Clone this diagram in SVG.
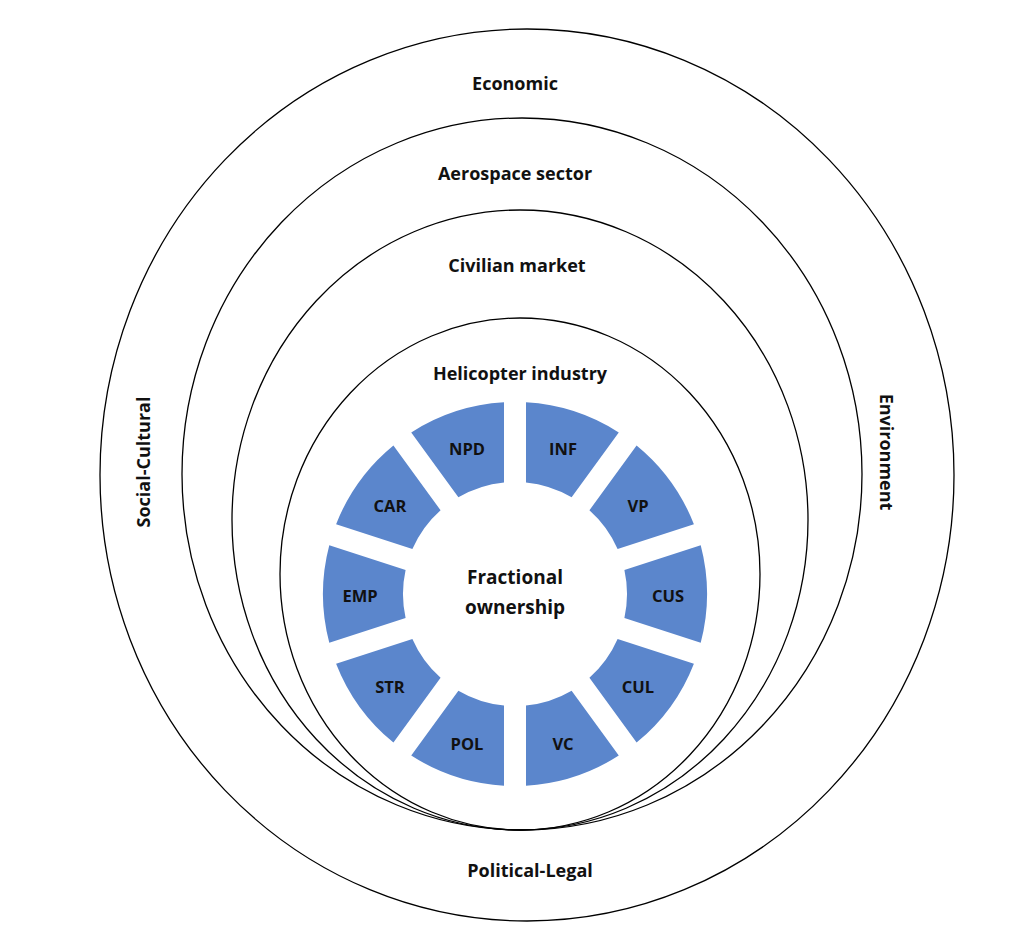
<svg xmlns="http://www.w3.org/2000/svg" xmlns:xlink="http://www.w3.org/1999/xlink" width="1032" height="942" viewBox="0 0 1032 942">
<style>
.ring{fill:none;stroke:#000;stroke-width:1.3}
.lbl{font-family:"Open Sans","Liberation Sans",sans-serif;font-weight:bold;font-size:18px;fill:#111;text-anchor:middle}
.seg{fill:#5B86CC}
.sl{font-family:"Open Sans","Liberation Sans",sans-serif;font-weight:bold;font-size:16.5px;fill:#111;text-anchor:middle;dominant-baseline:central}
</style>
<defs>
<path id="s" class="seg" d="M109.41,-23.98 L185.71,-48.77 A192 192 0 0 1 185.71,48.77 L109.41,23.98 A112 112 0 0 0 109.41,-23.98Z"/>
</defs>
<rect width="1032" height="942" fill="#fff"/>
<g id="economic"><ellipse class="ring" cx="527" cy="475" rx="427" ry="446"/><text class="lbl" x="515" y="90">Economic</text></g>
<g id="aerospace"><ellipse class="ring" cx="522" cy="474" rx="340" ry="356"/><text class="lbl" x="515" y="180">Aerospace sector</text></g>
<g id="civilian"><ellipse class="ring" cx="520" cy="520" rx="288" ry="310"/><text class="lbl" x="517" y="272">Civilian market</text></g>
<g id="helicopter"><ellipse class="ring" cx="520" cy="574" rx="240" ry="256"/><text class="lbl" x="520" y="380">Helicopter industry</text></g>
<g id="side-labels">
<text class="lbl" transform="translate(150,462) rotate(-90)">Social-Cultural</text>
<text class="lbl" transform="translate(880,452) rotate(90)">Environment</text>
<text class="lbl" x="530" y="877">Political-Legal</text>
</g>
<g id="segments" transform="translate(515,594)">
<use xlink:href="#s" transform="rotate(0)"/>
<use xlink:href="#s" transform="rotate(36)"/>
<use xlink:href="#s" transform="rotate(72)"/>
<use xlink:href="#s" transform="rotate(108)"/>
<use xlink:href="#s" transform="rotate(144)"/>
<use xlink:href="#s" transform="rotate(180)"/>
<use xlink:href="#s" transform="rotate(216)"/>
<use xlink:href="#s" transform="rotate(252)"/>
<use xlink:href="#s" transform="rotate(288)"/>
<use xlink:href="#s" transform="rotate(324)"/>
</g>
<g id="segment-labels">
<text class="sl" x="668" y="595">CUS</text>
<text class="sl" x="638" y="686">CUL</text>
<text class="sl" x="563" y="743">VC</text>
<text class="sl" x="467" y="743">POL</text>
<text class="sl" x="390" y="686">STR</text>
<text class="sl" x="360" y="595">EMP</text>
<text class="sl" x="390" y="505">CAR</text>
<text class="sl" x="467" y="448">NPD</text>
<text class="sl" x="563" y="448">INF</text>
<text class="sl" x="638" y="505">VP</text>
</g>
<g id="center">
<text class="lbl" x="515" y="584" style="font-size:19px">Fractional</text>
<text class="lbl" x="515" y="614" style="font-size:19px">ownership</text>
</g>
</svg>
